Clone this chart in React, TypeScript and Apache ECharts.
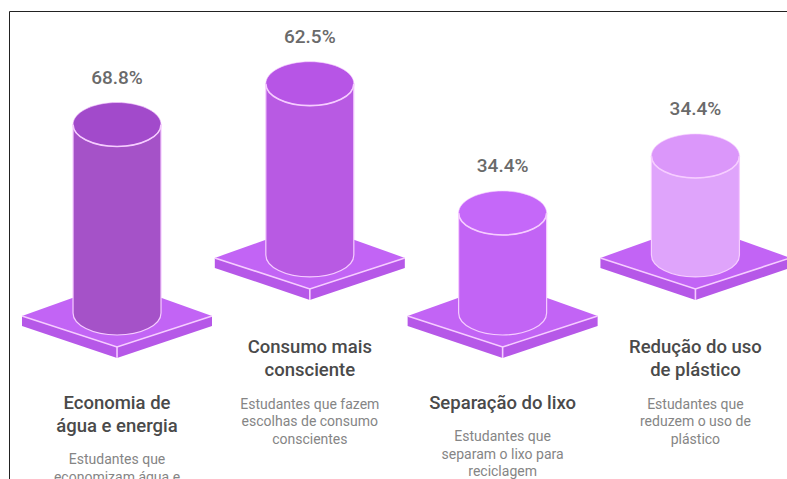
import React, { useEffect, useRef } from "react";
import * as echarts from "echarts";

const categories = ["Economia de\nágua e energia", "Consumo mais\nconsciente", "Separação do lixo", "Redução do uso\nde plástico"];
const descriptions = ["Estudantes que\neconomizam água e", "Estudantes que fazem\nescolhas de consumo\nconscientes", "Estudantes que\nseparam o lixo para\nreciclagem", "Estudantes que\nreduzem o uso de\nplástico"];
const valueLabels = ["68.8%", "62.5%", "34.4%", "34.4%"];
// Height of each column and level of its platform, as drawn in the picture
const columnHeights = [68.8, 62.5, 36.5, 36.1];
const platformLevels = [0, 21.2, 0, 21.2];
const bodyColors = ["#A552C8", "#B85AE3", "#C264F5", "#DFA4FB"];
const capColors = ["#A24ACB", "#B755E6", "#C568F9", "#DB97FA"];

const PLATFORM = "#C264F5";
const PLATFORM_SIDE = "#B658E8";
const EDGE = "#F6CDFF";
const FONT = "Roboto";

export default function App() {
  const ref = useRef<HTMLDivElement>(null);
  useEffect(() => {
    const chart = echarts.init(ref.current!, null, { renderer: "svg" });
    const renderItem = (params: any, api: any) => {
      const i = params.dataIndex;
      const [cx, gy] = api.coord([api.value(0), api.value(1)]);
      const [, topY] = api.coord([api.value(0), api.value(1) + api.value(2)]);
      const rx = 44, ry = 22, hw = 95;
      const left = gy + 3, front = gy + 34, back = gy - 31, thick = 11;
      const titleLines = categories[i].split("\n").length;
      const titleY = gy + (i % 2 === 1 ? 80.5 : 78);
      const descY = titleY + 23 * titleLines + 13.5;
      return {
        type: "group",
        children: [
          { type: "polygon", shape: { points: [[cx - hw, left], [cx, front], [cx, front + thick], [cx - hw, left + thick - 1]] }, style: { fill: PLATFORM_SIDE } },
          { type: "polygon", shape: { points: [[cx + hw, left], [cx, front], [cx, front + thick], [cx + hw, left + thick - 1]] }, style: { fill: PLATFORM_SIDE } },
          { type: "polygon", shape: { points: [[cx - hw, left], [cx, back], [cx + hw, left], [cx, front]] }, style: { fill: PLATFORM } },
          { type: "polyline", shape: { points: [[cx - hw, left], [cx, front], [cx + hw, left]] }, style: { fill: "none", stroke: EDGE, lineWidth: 1.6 } },
          { type: "line", shape: { x1: cx, y1: front, x2: cx, y2: front + thick }, style: { stroke: EDGE, lineWidth: 1.6 } },
          { type: "path", shape: { pathData: `M${cx - rx} ${topY}L${cx - rx} ${gy}A${rx} ${ry} 0 0 0 ${cx + rx} ${gy}L${cx + rx} ${topY}Z`, x: cx - rx, y: topY, width: 2 * rx, height: gy - topY + ry }, style: { fill: bodyColors[i], stroke: EDGE, lineWidth: 1.2 } },
          { type: "ellipse", shape: { cx, cy: topY, rx, ry }, style: { fill: capColors[i], stroke: EDGE, lineWidth: 0.6 } },
          { type: "path", shape: { pathData: `M${cx - rx} ${topY}A${rx} ${ry} 0 0 0 ${cx + rx} ${topY}`, x: cx - rx, y: topY, width: 2 * rx, height: ry }, style: { fill: "none", stroke: EDGE, lineWidth: 1.6 } },
          { type: "text", style: { text: valueLabels[i], x: cx, y: topY - 47, textAlign: "center", textVerticalAlign: "middle", fontFamily: FONT, fontSize: 19, fontWeight: 500, fill: "#6A6A6A" } },
          { type: "text", style: { text: categories[i], x: cx, y: titleY, textAlign: "center", textVerticalAlign: "top", fontFamily: FONT, fontSize: 18.5, fontWeight: 500, lineHeight: 23, fill: "#4A4A4A" } },
          { type: "text", style: { text: descriptions[i], x: cx, y: descY, textAlign: "center", textVerticalAlign: "top", fontFamily: FONT, fontSize: 14, lineHeight: 17.5, fill: "#858585" } },
        ],
      };
    };
    chart.setOption({
      animation: false,
      backgroundColor: "#FFFFFF",
      grid: { left: 0, right: 0, top: 39, height: 274 },
      xAxis: { type: "value", min: -0.607, max: 3.475, show: false },
      yAxis: { type: "value", min: 0, max: 100, show: false },
      series: [
        {
          type: "custom",
          renderItem,
          clip: false,
          encode: { x: 0, y: 1 },
          data: categories.map((_, i) => [i, platformLevels[i], columnHeights[i]]),
        },
      ],
      graphic: [
        { type: "rect", shape: { x: 9.5, y: 11.5, width: 800, height: 500 }, style: { fill: "none", stroke: "#222222", lineWidth: 1 }, silent: true },
      ],
    });
    return () => chart.dispose();
  }, []);
  return <div ref={ref} style={{ position: "fixed", left: 0, top: 0, width: 787, height: 479 }} />;
}
